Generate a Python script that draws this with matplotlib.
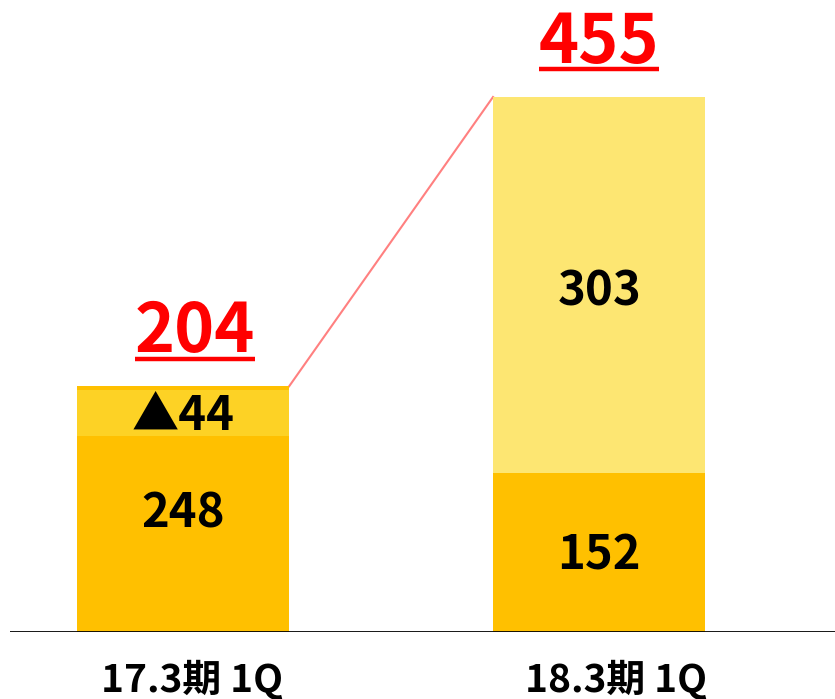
import numpy as np
import matplotlib
matplotlib.use('Agg')
import matplotlib.pyplot as plt

plt.rcParams['font.family'] = ['Noto Sans CJK JP', 'DejaVu Sans']

# bar data (heights as drawn in the chart, labels as printed)
periods = ['17.3期 1Q', '18.3期 1Q']
base_height = [209, 135]
top_bottom = [167, 135]
top_height = [39, 320]
base_labels = ['248', '152']
top_labels = ['▲44', '303']
totals = ['204', '455']

c_base = '#FFC000'
c_top = ['#FDD225', '#FDE672']

fig = plt.figure(figsize=(8.35, 6.99), dpi=100)
ax = fig.add_axes([10 / 835, 67 / 699, 825 / 835, 632 / 699])
ax.set_xlim(-0.416, 1.567)
ax.set_ylim(0, 537.5)
ax.axis('off')

x = np.arange(len(periods))
w = 0.51
ax.bar(x, base_height, width=w, color=c_base, zorder=2)
ax.bar(x, top_height, bottom=top_bottom, width=w, color=c_top, zorder=3)
ax.axhline(0, color='black', lw=2, zorder=4)

# connector between bar tops
tops = [top_bottom[i] + top_height[i] for i in range(len(x))]
tops[0] = max(tops[0], base_height[0])
ax.plot([x[0] + w / 2, x[1] - w / 2], [tops[0], tops[1]], color='#FF8080', lw=1.5, zorder=1)

lab_y_base = [89, 53]
lab_y_top = [172, 278]
xlab_dx = [0.022, 0.041]
for i in x:
    ax.text(i, lab_y_base[i], base_labels[i], ha='center', va='baseline',
            fontsize=34, fontweight='bold', color='black', zorder=5)
    ax.text(i, lab_y_top[i], top_labels[i], ha='center', va='baseline',
            fontsize=34, fontweight='bold', color='black', zorder=5)
    ax.text(i + xlab_dx[i], -51, periods[i], ha='center', va='baseline',
            fontsize=28, fontweight='bold', color='black')

total_y = [238, 484]
total_dx = [0.029, 0.0]
total_texts = []
for i in x:
    t = ax.text(i + total_dx[i], total_y[i], totals[i], ha='center', va='baseline',
                fontsize=49, fontweight='bold', color='#FF0000')
    total_texts.append(t)

# underline the totals
fig.canvas.draw()
r = fig.canvas.get_renderer()
inv = ax.transData.inverted()
for i, t in enumerate(total_texts):
    bb = t.get_window_extent(renderer=r)
    (x0, _), (x1, _) = inv.transform([(bb.x0, bb.y0), (bb.x1, bb.y0)])
    uy = total_y[i] - 5.5
    ax.plot([x0, x1], [uy, uy], color='#FF0000', lw=3.2, solid_capstyle='butt')

fig.savefig('out.png', dpi=100)
